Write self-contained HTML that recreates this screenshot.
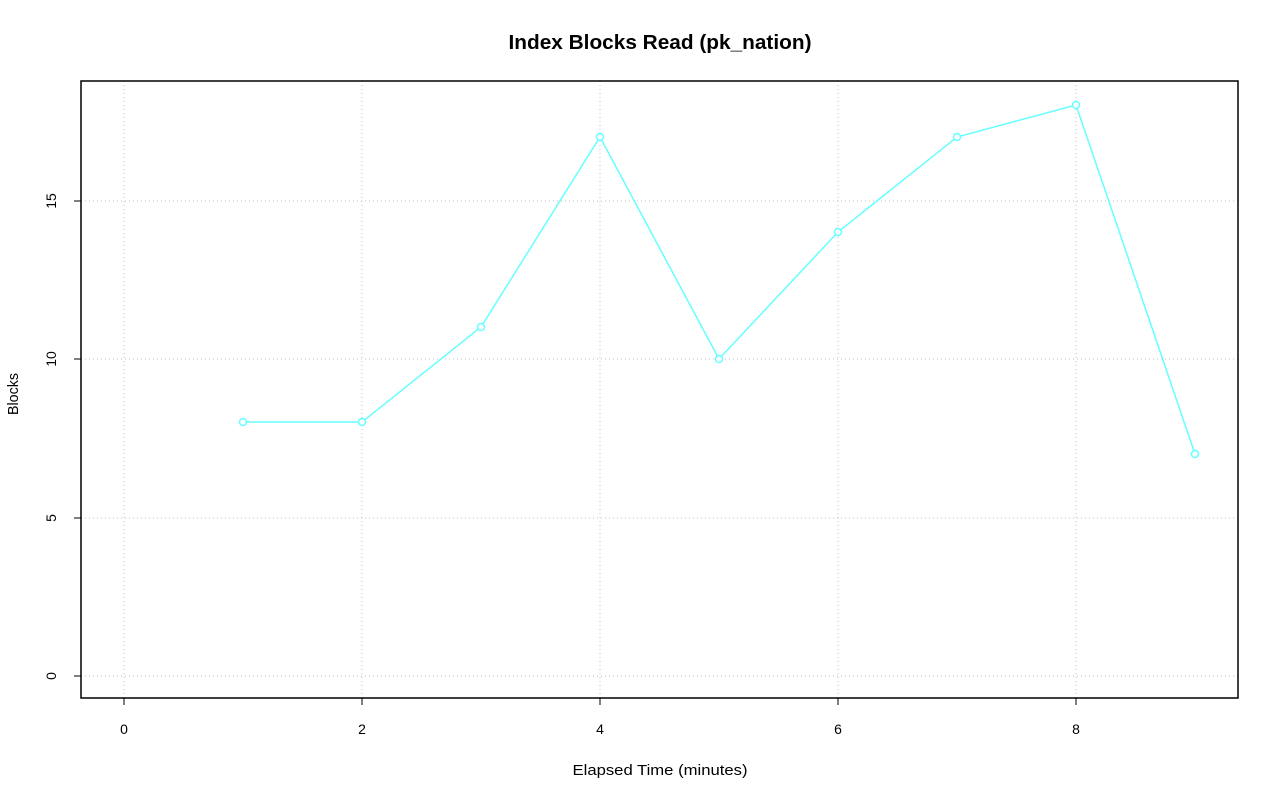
<!DOCTYPE html>
<html><head><style>body{margin:0;background:#fff}</style></head><body>
<svg width="1280" height="801" xmlns="http://www.w3.org/2000/svg" font-family="Liberation Sans, sans-serif">
<rect width="1280" height="801" fill="#fff"/>
<g stroke="#c0c0c0" stroke-dasharray="1,3" stroke-width="1">
<line x1="124" y1="81" x2="124" y2="698"/><line x1="362" y1="81" x2="362" y2="698"/><line x1="600" y1="81" x2="600" y2="698"/><line x1="838" y1="81" x2="838" y2="698"/><line x1="1076" y1="81" x2="1076" y2="698"/>
<line x1="81" y1="676" x2="1238" y2="676"/><line x1="81" y1="518" x2="1238" y2="518"/><line x1="81" y1="359" x2="1238" y2="359"/><line x1="81" y1="201" x2="1238" y2="201"/>
</g>
<rect x="81" y="81" width="1157" height="617" fill="none" stroke="#000" stroke-width="1.5"/>
<g stroke="#000"><line x1="124" y1="698" x2="124" y2="705"/><line x1="362" y1="698" x2="362" y2="705"/><line x1="600" y1="698" x2="600" y2="705"/><line x1="838" y1="698" x2="838" y2="705"/><line x1="1076" y1="698" x2="1076" y2="705"/>
<line x1="74" y1="676" x2="81" y2="676"/><line x1="74" y1="518" x2="81" y2="518"/><line x1="74" y1="359" x2="81" y2="359"/><line x1="74" y1="201" x2="81" y2="201"/></g>
<g font-size="14" text-anchor="middle"><text x="124" y="734">0</text><text x="362" y="734">2</text><text x="600" y="734">4</text><text x="838" y="734">6</text><text x="1076" y="734">8</text>
<text transform="translate(56,676) rotate(-90)">0</text><text transform="translate(56,518) rotate(-90)">5</text><text transform="translate(56,359) rotate(-90)">10</text><text transform="translate(56,201) rotate(-90)">15</text>
<text x="660" y="775" font-size="15" textLength="175" lengthAdjust="spacingAndGlyphs">Elapsed Time (minutes)</text>
<text transform="translate(18,394) rotate(-90)" font-size="15" textLength="42" lengthAdjust="spacingAndGlyphs">Blocks</text>
<text x="660" y="49" font-size="20" font-weight="bold" textLength="303" lengthAdjust="spacingAndGlyphs">Index Blocks Read (pk_nation)</text></g>
<polyline fill="none" stroke="#66ffff" stroke-width="1.5" points="243,422 362,422 481,327 600,137 719,359 838,232 957,137 1076,105 1195,454"/>
<g fill="#fff" stroke="#66ffff" stroke-width="1.5"><circle cx="243" cy="422" r="3.5"/><circle cx="362" cy="422" r="3.5"/><circle cx="481" cy="327" r="3.5"/><circle cx="600" cy="137" r="3.5"/><circle cx="719" cy="359" r="3.5"/><circle cx="838" cy="232" r="3.5"/><circle cx="957" cy="137" r="3.5"/><circle cx="1076" cy="105" r="3.5"/><circle cx="1195" cy="454" r="3.5"/></g>
</svg>
</body></html>
